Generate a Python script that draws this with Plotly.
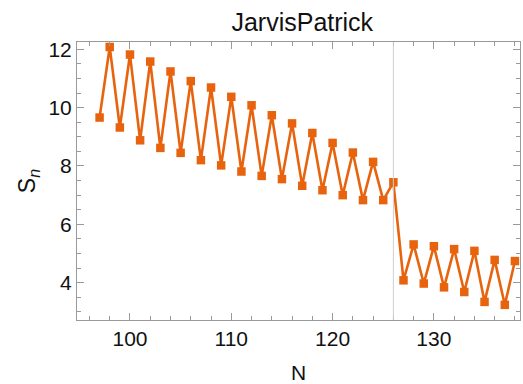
import plotly.graph_objects as go

N = list(range(97, 139))
S = [9.66, 12.08, 9.32, 11.82, 8.88, 11.58, 8.62, 11.24, 8.45, 10.91,
     8.20, 10.69, 8.02, 10.37, 7.81, 10.08, 7.66, 9.74, 7.55, 9.46,
     7.32, 9.13, 7.17, 8.79, 7.00, 8.46, 6.83, 8.14, 6.83, 7.44,
     4.08, 5.31, 3.97, 5.25, 3.84, 5.15, 3.68, 5.09, 3.34, 4.78,
     3.24, 4.74]
marker_N = 126
title = "JarvisPatrick"

orange = "#E8630E"
frame = "#9a9a9a"
font = "Liberation Sans, Arial, sans-serif"

fig = go.Figure()
fig.add_trace(go.Scatter(
    x=N, y=S, mode="lines+markers",
    line=dict(color=orange, width=2.6),
    marker=dict(symbol="square", size=8.5, color=orange),
    showlegend=False, cliponaxis=False))

fig.add_vline(x=marker_N, line=dict(color="#cfcfcf", width=1))

axis_common = dict(
    showgrid=False, zeroline=False, showline=True, linecolor=frame,
    linewidth=1, mirror="allticks", ticks="inside", tickcolor=frame,
    tickfont=dict(family=font, size=21, color="#111"))

fig.update_xaxes(range=[94.77, 138.5], dtick=10, tick0=100, ticklen=7,
                 minor=dict(dtick=2, ticklen=4, ticks="inside", tickcolor=frame),
                 title=dict(text="N", font=dict(family=font, size=21, color="#111"), standoff=17),
                 **axis_common)
fig.update_yaxes(range=[2.72, 12.25], dtick=2, tick0=0, ticklen=7,
                 minor=dict(dtick=0.5, ticklen=4, ticks="inside", tickcolor=frame),
                 title=dict(text="S<sub><i>n</i></sub>", font=dict(family=font, size=23, color="#111"), standoff=6),
                 **axis_common)

fig.update_layout(
    width=523, height=384,
    margin=dict(l=77, r=3, t=42, b=64),
    paper_bgcolor="white", plot_bgcolor="white",
    title=dict(text=title, x=0.578, xanchor="center", y=0.943, yanchor="middle",
               font=dict(family=font, size=25, color="#111")),
)

fig.write_html("out.html")
